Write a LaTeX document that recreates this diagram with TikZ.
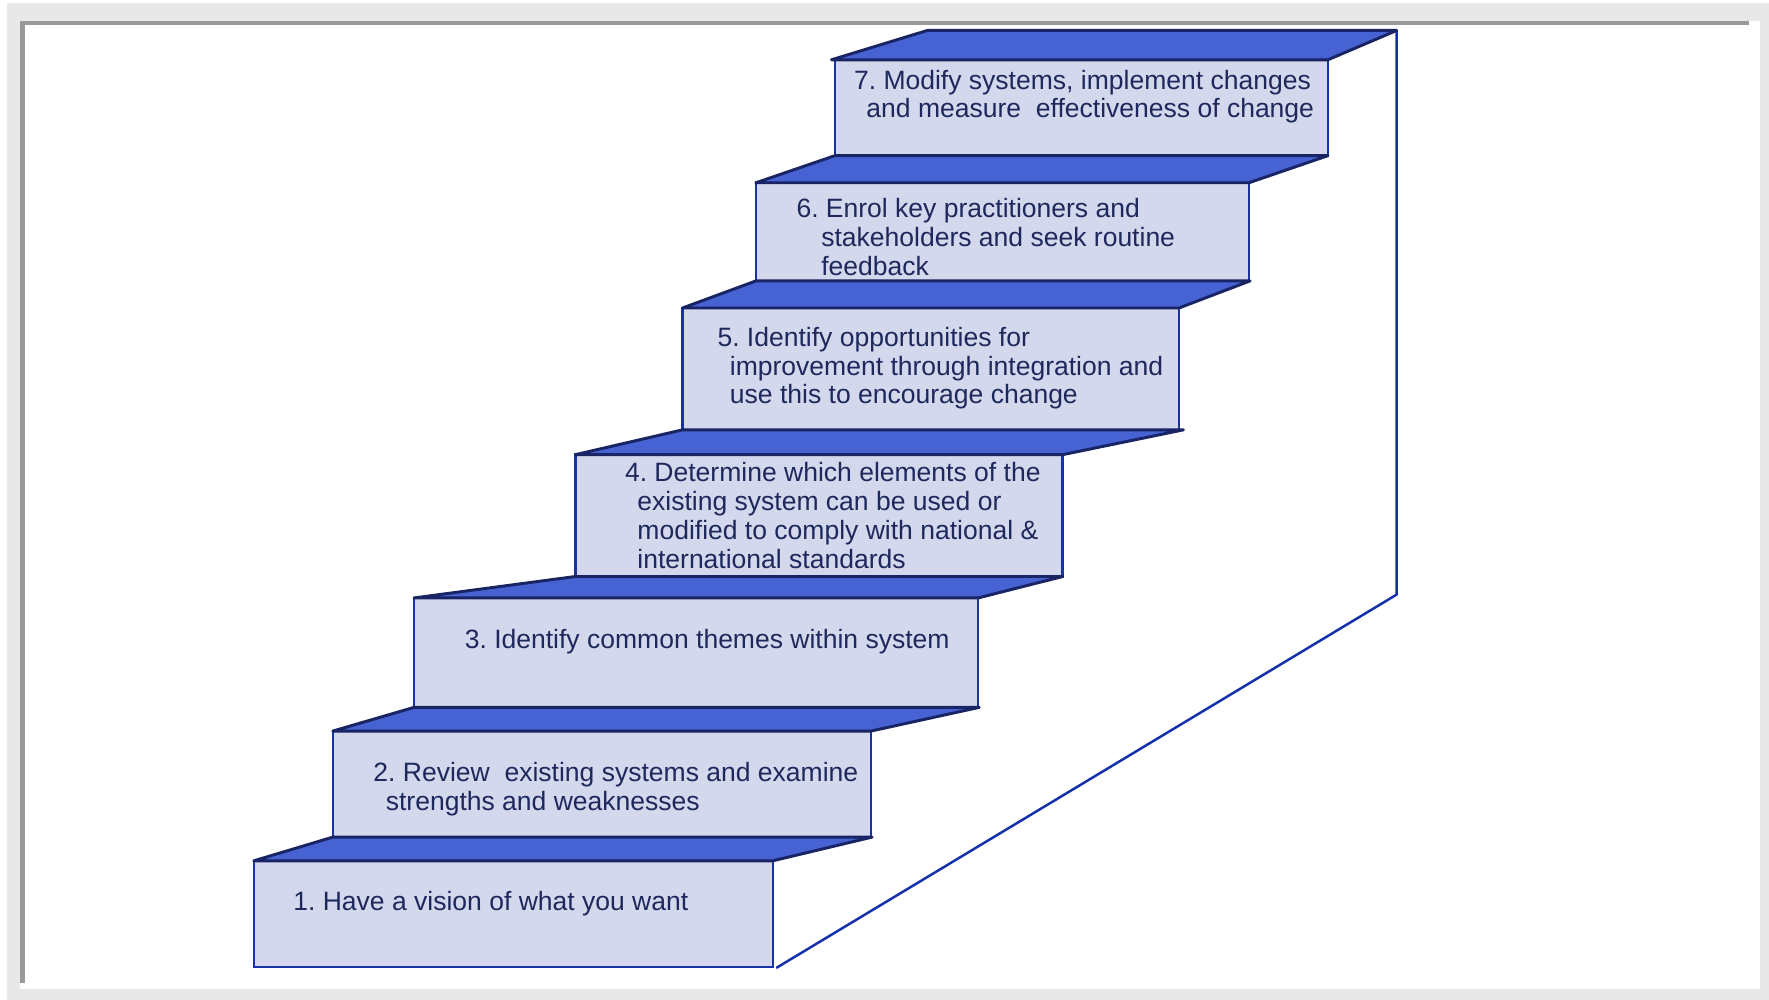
\documentclass[tikz,border=0pt]{standalone}
\usepackage{fontspec}
\setmainfont{Liberation Sans}
\usetikzlibrary{calc}
\definecolor{treadblue}{RGB}{71,99,211}
\definecolor{frontfill}{RGB}{211,216,236}
\definecolor{frontline}{RGB}{24,52,160}
\definecolor{navy}{RGB}{24,36,100}
\definecolor{txt}{RGB}{30,40,92}
\definecolor{sideline}{RGB}{20,48,170}
\definecolor{framegray}{RGB}{232,232,232}
\definecolor{shadowgray}{RGB}{153,153,153}
\tikzset{
  front/.style={draw=frontline, fill=frontfill, line width=1.15pt, anchor=north west, inner sep=0pt, outer sep=0pt, rectangle},
  tread/.style={draw=navy, fill=treadblue, line width=1.3pt, line join=round},
  side/.style={draw=sideline, line width=1.1pt, line join=round},
  lbl/.style={anchor=base west, inner sep=0pt, outer sep=0pt, text=txt, font=\fontsize{11.75pt}{12.75pt}\selectfont}
}
\begin{document}
\frenchspacing
\begin{tikzpicture}[x=0.5pt,y=-0.5pt]
% frame
\fill[white] (0,0) rectangle (1568,886.3);
\fill[framegray] (6.2,2.7) rectangle (1568,886.3);
\fill[white] (17.7,18.6) rectangle (1560,876.6);
\fill[shadowgray] (17.7,18.6) rectangle (1550.2,22.2);
\fill[shadowgray] (17.7,18.6) rectangle (22.2,871.3);
\useasboundingbox (0,0) rectangle (1568,886.3);

% front faces
\node[front, minimum width=230pt,   minimum height=47pt]   (s1) at (225,763) {};
\node[front, minimum width=238.5pt, minimum height=47pt]   (s2) at (295,648) {};
\node[front, minimum width=250pt,   minimum height=48.5pt] (s3) at (367,530) {};
\node[front, minimum width=216pt,   minimum height=54pt]   (s4) at (510,403) {};
\node[front, minimum width=220pt,   minimum height=54pt]   (s5) at (605,273) {};
\node[front, minimum width=218.5pt, minimum height=43.5pt] (s6) at (670,162) {};
\node[front, minimum width=218.5pt, minimum height=42.5pt] (s7) at (740,53) {};

% back-right corners of treads
\coordinate (b1) at (773,742);
\coordinate (b2) at (868,627);
\coordinate (b3) at (942,511);
\coordinate (b4) at (1049,381);
\coordinate (b5) at (1108,249);
\coordinate (b6) at (1177,138);
\coordinate (b7l) at (822,27);
\coordinate (b7) at (1238,27);
\coordinate (corner) at (1238,527);
\coordinate (foot) at (688,858);

% side of the staircase
\draw[side] (b7) -- (corner) -- (foot);

% treads
\draw[tread] (s1.north west) -- (s2.south west) -- (b1) -- (s1.north east) -- cycle;
\draw[tread] (s2.north west) -- (s3.south west) -- (b2) -- (s2.north east) -- cycle;
\draw[tread] (s3.north west) -- (s4.south west) -- (b3) -- (s3.north east) -- cycle;
\draw[tread] (s4.north west) -- (s5.south west) -- (b4) -- (s4.north east) -- cycle;
\draw[tread] (s5.north west) -- (s6.south west) -- (b5) -- (s5.north east) -- cycle;
\draw[tread] (s6.north west) -- (s7.south west) -- (b6) -- (s6.north east) -- cycle;
\draw[tread] ($(s7.north west)+(-3,0)$) -- (b7l) -- (b7) -- (s7.north east) -- cycle;

% labels
\node[lbl] (t7) at (757,79) {\begin{tabular}[t]{@{}l@{}}7. Modify systems, implement changes\\\hspace*{5.5pt}and measure\ \ effectiveness of change\end{tabular}};
\node[lbl] (t6) at (706,193) {\begin{tabular}[t]{@{}l@{}}6. Enrol key practitioners and\\\hspace*{11pt}stakeholders and seek routine\\\hspace*{11pt}feedback\end{tabular}};
\node[lbl] (t5) at (636,307) {\begin{tabular}[t]{@{}l@{}}5. Identify opportunities for\\\hspace*{5.5pt}improvement through integration and\\\hspace*{5.5pt}use this to encourage change\end{tabular}};
\node[lbl] (t4) at (554,427) {\begin{tabular}[t]{@{}l@{}}4. Determine which elements of the\\\hspace*{5.5pt}existing system can be used or\\\hspace*{5.5pt}modified to comply with national \&\\\hspace*{5.5pt}international standards\end{tabular}};
\node[lbl] (t3) at (412,575) {3. Identify common themes within system};
\node[lbl] (t2) at (331,693) {\begin{tabular}[t]{@{}l@{}}2. Review\ \ existing systems and examine\\\hspace*{5.5pt}strengths and weaknesses\end{tabular}};
\node[lbl] (t1) at (260,807) {1. Have a vision of what you want};
\end{tikzpicture}
\end{document}
